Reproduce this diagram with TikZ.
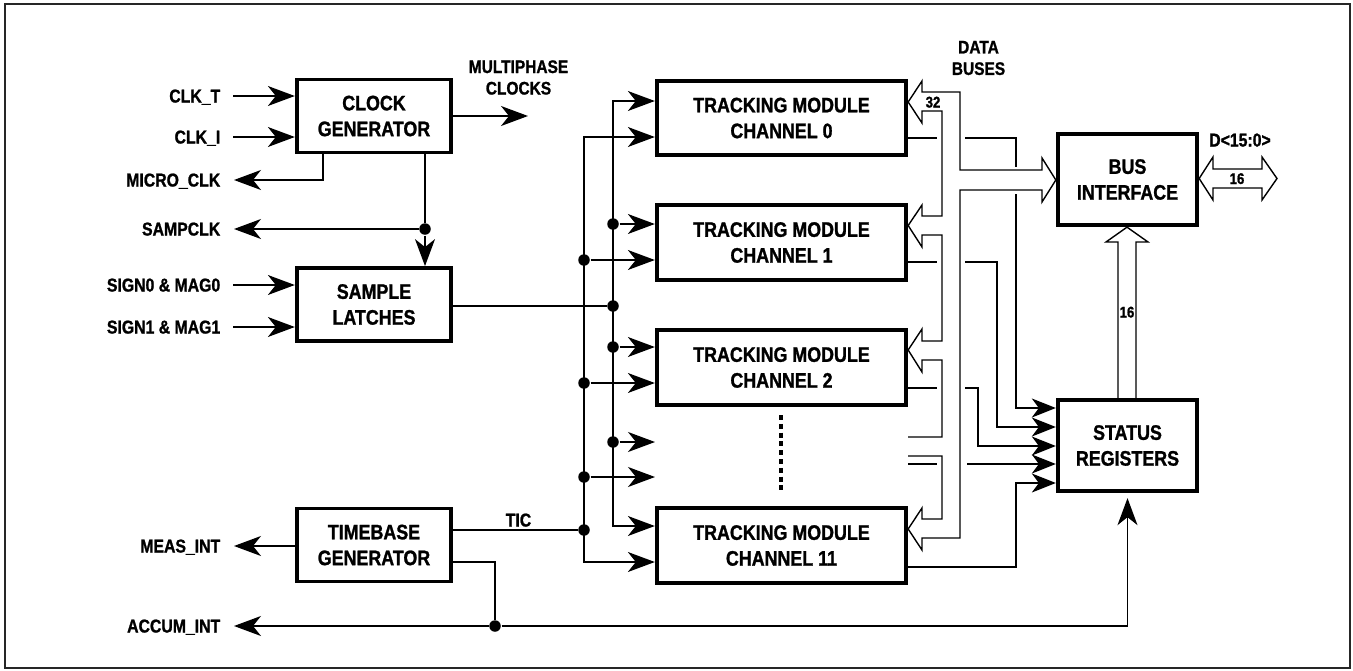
\documentclass[tikz,border=0pt]{standalone}
\usepackage{fontspec}
\newfontfamily\lab{Liberation Sans}[FakeStretch=0.85,FakeBold=1.2]
\usetikzlibrary{arrows.meta}

\begin{document}
\begin{tikzpicture}[x=1pt,y=-1pt,line width=1.5pt,
  box/.style={draw,line width=3.8pt,inner sep=0pt,align=center,
    font=\lab\bfseries\fontsize{21}{25.8}\selectfont},
  chbox/.style={box,minimum width=249.5pt,minimum height=74.5pt},
  smbox/.style={box,minimum width=154.5pt,minimum height=73pt},
  ifbox/.style={box,minimum width=139.5pt,minimum height=91.5pt},
  lbl/.style={inner sep=0pt,text height=13pt,text depth=0pt,
    font=\lab\bfseries\fontsize{18.6}{21.5}\selectfont},
  mlbl/.style={inner sep=0pt,align=center,
    font=\lab\bfseries\fontsize{18.2}{21.5}\selectfont},
  num/.style={inner sep=0pt,text height=11pt,text depth=0pt,
    font=\lab\bfseries\fontsize{15.5}{18}\selectfont},
  tip/.tip={Stealth[length=27pt,width=20pt,inset=8pt]},
  stip/.tip={Stealth[length=24pt,width=19pt,inset=7pt]},
  arr/.style={-tip},
  darr/.style={tip-tip},
  sarr/.style={-stip},
  dot/.style={circle,fill,inner sep=0pt,minimum size=11.5pt},
  hollow/.style={line width=1.4pt,line join=miter}
]
\useasboundingbox (0,0) rectangle (1353,670);
\draw[line width=2pt,black!85] (5,4) rectangle (1350,668);

% ---------- blocks ----------
\node[smbox] (clk) at (374,116)   {CLOCK\\GENERATOR};
\node[smbox] (sl)  at (374,304.5) {SAMPLE\\LATCHES};
\node[smbox] (tb)  at (374,545)   {TIMEBASE\\GENERATOR};
\node[chbox] (ch0)  at (781.5,118)   {TRACKING MODULE\\CHANNEL 0};
\node[chbox] (ch1)  at (781.5,242.5) {TRACKING MODULE\\CHANNEL 1};
\node[chbox] (ch2)  at (781.5,367.5) {TRACKING MODULE\\CHANNEL 2};
\node[chbox] (ch11) at (781.5,545.5) {TRACKING MODULE\\CHANNEL 11};
\node[ifbox] (busif)  at (1127.5,179.5) {BUS\\INTERFACE};
\node[ifbox] (status) at (1127.5,445.5) {STATUS\\REGISTERS};

% ---------- pin labels ----------
\node[lbl,anchor=east] (lclkt)  at (221,96)  {CLK\_T};
\node[lbl,anchor=east] (lclki)  at (221,137) {CLK\_I};
\node[lbl,anchor=east] (lmicro) at (221,180) {MICRO\_CLK};
\node[lbl,anchor=east] (lsamp)  at (221,229) {SAMPCLK};
\node[lbl,anchor=east] (lsign0) at (221,285) {SIGN0 \& MAG0};
\node[lbl,anchor=east] (lsign1) at (221,327) {SIGN1 \& MAG1};
\node[lbl,anchor=east] (lmeas)  at (221,546) {MEAS\_INT};
\node[lbl,anchor=east] (laccum) at (221,626) {ACCUM\_INT};
\node[mlbl] (lmulti) at (518.5,77.5) {MULTIPHASE\\CLOCKS};
\node[mlbl] (ldata)  at (978.5,58)   {DATA\\BUSES};
\node[lbl]  (ltic)   at (518.5,520)  {TIC};
\node[lbl]  (ld)     at (1240,140)   {D<15:0>};
\node[num]  (l32)    at (933,102)    {32};
\node[num]  (l16d)   at (1237,178.5) {16};
\node[num]  (l16v)   at (1127,312)   {16};

% ---------- clock generator ----------
\draw[arr] ([xshift=12pt]lclkt.east) -- (lclkt.east -| clk.west);
\draw[arr] ([xshift=12pt]lclki.east) -- (lclki.east -| clk.west);
\draw[arr] (clk.south -| 323,0) -- (323,180) -- ([xshift=13pt]lmicro.east);
\coordinate (mp) at (528,116);
\draw[arr] (clk.east) -- (mp);
\node[dot] (dsamp) at (425,229) {};
\draw (clk.south -| dsamp) -- (dsamp);
\draw[arr] (dsamp) -- (sl.north -| dsamp);
\draw[arr] (dsamp) -- ([xshift=13pt]lsamp.east);

% ---------- sample latches ----------
\draw[arr] ([xshift=12pt]lsign0.east) -- (lsign0.east -| sl.west);
\draw[arr] ([xshift=12pt]lsign1.east) -- (lsign1.east -| sl.west);

% ---------- timebase ----------
\draw[arr] (tb.west |- lmeas.east) -- ([xshift=13pt]lmeas.east);
\node[dot] (dacc) at (495,626) {};
\draw (tb.east |- 0,562) -- (dacc |- 0,562) -- (dacc);
\draw[arr] (dacc) -- ([xshift=13pt]laccum.east);
\draw[arr,shorten >=5pt] (dacc) -- (status.south |- dacc) -- (status.south);

% ---------- distribution to the channels ----------
% sample bus (inner vertical)
\draw[darr] (ch11.west |- 0,526) -- (613,526) -- (613,101) -- (ch0.west |- 0,101);
\node[dot] (dsl) at (613,306) {};
\draw (sl.east |- dsl) -- (dsl);
\node[dot] (da1) at (613,224) {};
\node[dot] (da2) at (613,347) {};
\node[dot] (da3) at (613,442) {};
\draw[arr] (da1) -- (ch1.west |- da1);
\draw[arr] (da2) -- (ch2.west |- da2);
\coordinate (ea) at (655,442);
\draw[arr] (da3) -- (ea);
% tic bus (outer vertical)
\draw[darr] (ch11.west |- 0,562) -- (584,562) -- (584,137) -- (ch0.west |- 0,137);
\node[dot] (dtic) at (584,530) {};
\draw (tb.east |- dtic) -- (dtic);
\node[dot] (db1) at (584,260) {};
\node[dot] (db2) at (584,383) {};
\node[dot] (db3) at (584,477) {};
\draw[arr] (db1) -- (ch1.west |- db1);
\draw[arr] (db2) -- (ch2.west |- db2);
\coordinate (eb) at (655,477);
\draw[arr] (db3) -- (eb);

% channels omitted between 2 and 11
\draw[line width=3.8pt,dash pattern=on 5pt off 3.8pt] (781,415) -- (781,494);

% ---------- 32-bit data buses ----------
\draw[hollow] (908,437) -- (942,437) -- (942,360) -- (922,360) -- (922,372)
  -- (ch2.east |- 0,350) -- (922,329) -- (922,341) -- (942,341)
  -- (942,235) -- (922,235) -- (922,247) -- (ch1.east |- 0,225.5) -- (922,205)
  -- (922,216) -- (942,216) -- (942,111) -- (922,111) -- (922,123)
  -- (ch0.east |- 0,102) -- (922,81) -- (922,92) -- (960,92) -- (960,170)
  -- (1042,170) -- (1042,158) -- (busif.west |- 0,180) -- (1042,202) -- (1042,190)
  -- (960,190) -- (960,538) -- (922,538) -- (922,550) -- (ch11.east |- 0,529)
  -- (922,508) -- (922,519) -- (942,519) -- (942,456) -- (908,456);

% ---------- status lines ----------
\draw (ch0.east |- 0,138) -- (937,138);
\draw (965,138) -- (1016,138) -- (1016,167);
\draw[sarr] (1016,194) -- (1016,408) -- (status.west |- 0,408);
\draw (ch1.east |- 0,262) -- (937,262);
\draw[sarr] (965,262) -- (997,262) -- (997,427) -- (status.west |- 0,427);
\draw (ch2.east |- 0,388) -- (937,388);
\draw[sarr] (965,388) -- (978,388) -- (978,446) -- (status.west |- 0,446);
\draw (908,464) -- (937,464);
\draw[sarr] (967,464) -- (status.west |- 0,464);
\draw[sarr] (ch11.east |- 0,567) -- (1016,567) -- (1016,483) -- (status.west |- 0,483);

% ---------- 16-bit buses ----------
\draw[hollow] (status.north -| 1118,0) -- (1118,242) -- (1106,242) -- (busif.south -| 1127,0)
  -- (1148,242) -- (1136,242) -- (status.north -| 1136,0);
\draw[hollow] (1213,169) -- (1262,169) -- (1262,157) -- (1277,178.5) -- (1262,200)
  -- (1262,188) -- (1213,188) -- (1213,200) -- (busif.east |- 0,178.5) -- (1213,157) -- cycle;
\end{tikzpicture}
\end{document}
